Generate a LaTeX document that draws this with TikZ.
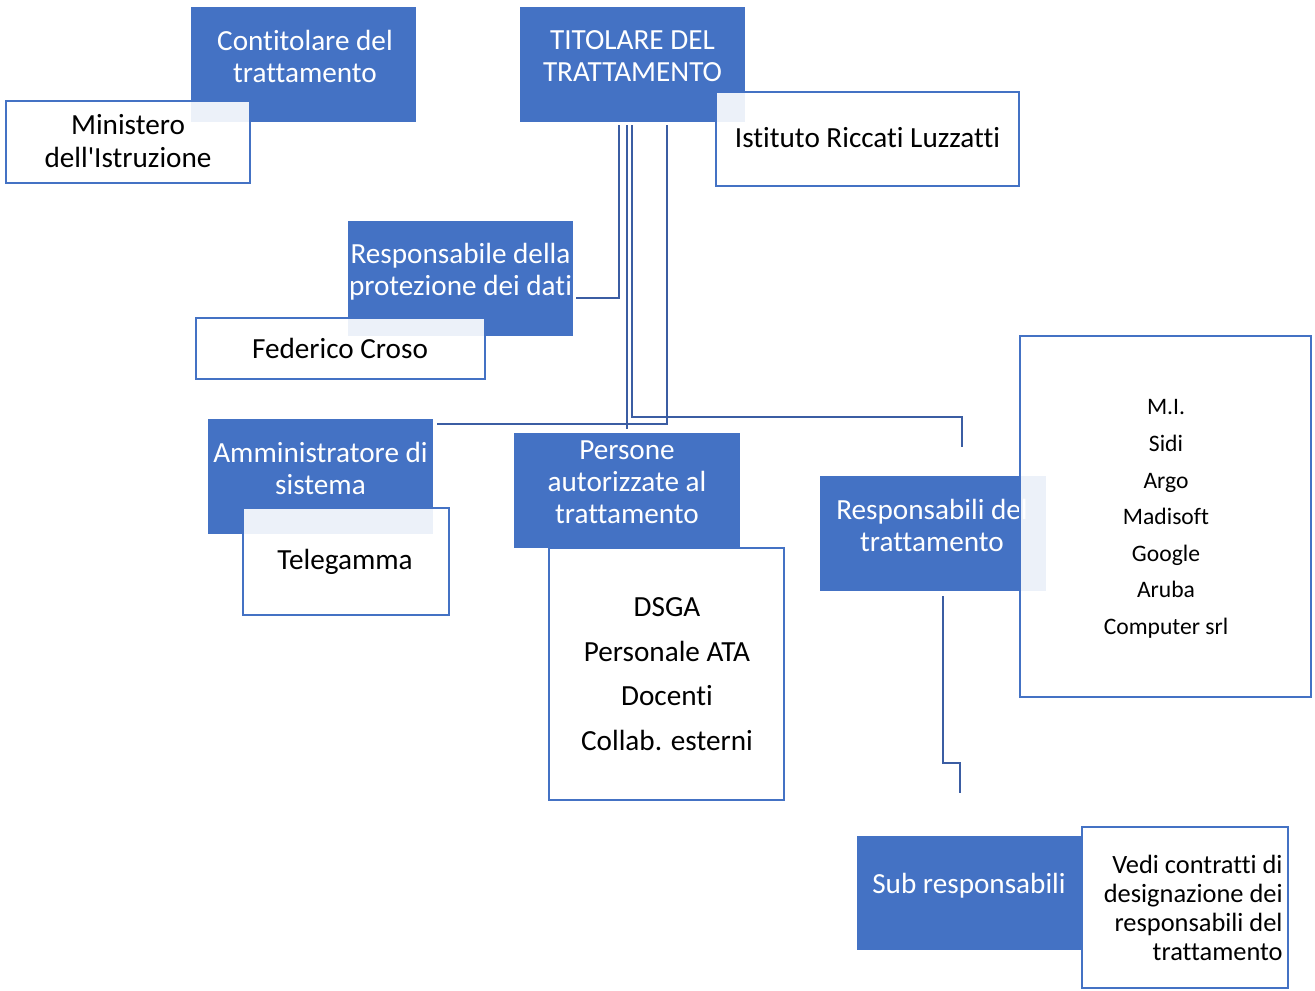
\documentclass[tikz,border=0pt]{standalone}
\usepackage{fontspec}
\newfontfamily\carl{Carlito}[RawFeature={-liga;-clig;-calt;-dlig}]
\usetikzlibrary{calc}
\definecolor{accent}{HTML}{4472C4}
\definecolor{connc}{RGB}{59,93,163}
\begin{document}
\begin{tikzpicture}[x=0.5pt,y=-0.5pt,
  bluebox/.style={fill=accent, draw=none, inner sep=0pt, outer sep=0pt},
  whitebox/.style={draw=accent, line width=1.3pt, fill=white, fill opacity=0.9, text opacity=1, inner sep=0pt, outer sep=0pt},
  wtxt/.style={text=white, align=center, font=\carl\fontsize{14.6}{16}\selectfont, inner sep=0pt},
  btxt/.style={text=black, align=center, font=\carl\fontsize{14.6}{16.5}\selectfont, inner sep=0pt},
  conn/.style={draw=connc, line width=1.35pt}]
\useasboundingbox (0,0) rectangle (1315,990);
% blue boxes and their texts
\node[bluebox, minimum width=112.5pt, minimum height=57.5pt] (cont) at (303.5,64.5) {};
\node[wtxt] (contt) at (305,56) {Contitolare del\\trattamento};
\node[bluebox, minimum width=112.5pt, minimum height=57.5pt] (tit) at (632.5,64.5) {};
\node[wtxt] (titt) at (632.5,56) {TITOLARE DEL\\TRATTAMENTO};
\node[bluebox, minimum width=112.5pt, minimum height=57.5pt] (rpd) at (460.5,278.5) {};
\node[wtxt] (rpdt) at (460.5,271.5) {Responsabile della\\protezione dei dati};
\node[bluebox, minimum width=112.5pt, minimum height=57.5pt] (amm) at (320.5,476.5) {};
\node[wtxt] (ammt) at (320.5,468.5) {Amministratore di\\sistema};
\node[bluebox, minimum width=113pt, minimum height=57.5pt] (pers) at (627,490.5) {};
\node[wtxt] (perst) at (627,482.5) {Persone\\autorizzate al\\trattamento};
\node[bluebox, minimum width=113pt, minimum height=57.5pt] (resp) at (933,533.5) {};
\node[wtxt] (respt) at (932,525.5) {Responsabili del\\trattamento};
\node[bluebox, minimum width=112.5pt, minimum height=57pt] (sub) at (969.5,893) {};
\node[wtxt] (subt) at (969,885.5) {Sub responsabili};
% white boxes and their texts
\node[whitebox, minimum width=122pt, minimum height=41pt] (min) at (128,142) {};
\node[btxt] (mint) at (128,141.5) {Ministero\\dell'Istruzione};
\node[whitebox, minimum width=151.5pt, minimum height=47pt] (ist) at (867.5,139) {};
\node[btxt] (istt) at (867.5,138) {Istituto Riccati Luzzatti};
\node[whitebox, minimum width=144.5pt, minimum height=30.5pt] (fed) at (340.5,348.5) {};
\node[btxt] (fedt) at (340,348) {Federico Croso};
\node[whitebox, minimum width=103pt, minimum height=53.5pt] (tel) at (346,561.5) {};
\node[btxt] (telt) at (345,561.5) {Telegamma};
\node[whitebox, minimum width=117.5pt, minimum height=126pt] (plist) at (666.5,674) {};
\node[btxt, font=\carl\fontsize{14.6}{22.3}\selectfont] (plistt) at (667,674) {DSGA\\Personale ATA\\Docenti\\Collab. esterni};
\node[whitebox, minimum width=145.5pt, minimum height=180.5pt] (rlist) at (1165.5,516.5) {};
\node[btxt, font=\carl\fontsize{11.8}{18.3}\selectfont] (rlistt) at (1166,519) {M.I.\\Sidi\\Argo\\Madisoft\\Google\\Aruba\\Computer srl};
\node[whitebox, minimum width=103pt, minimum height=80.5pt] (vedi) at (1185,907.5) {};
\node[btxt, align=right, anchor=east, font=\carl\fontsize{13.2}{14.5}\selectfont] (vedit) at (1283,907.5) {Vedi contratti di\\designazione dei\\responsabili del\\trattamento};
% connectors
\draw[conn] ($(tit.south)+(-13.5,3)$) |- ($(rpd.east)+(3,19.5)$);
\draw[conn] ($(tit.south)+(-5.5,3)$) -- ($(pers.north)+(0,-4)$);
\draw[conn] ($(tit.south)+(-0.5,3)$) |- ($(resp.north)+(29,-59)$) -- ($(resp.north)+(29,-29)$);
\draw[conn] ($(tit.south)+(34.5,3)$) |- ($(amm.north east)+(4,5)$);
\draw[conn] ($(resp.south)+(10,5)$) |- ($(sub.north)+(-9.5,-73)$) -- ($(sub.north)+(-9.5,-43)$);
\end{tikzpicture}
\end{document}
